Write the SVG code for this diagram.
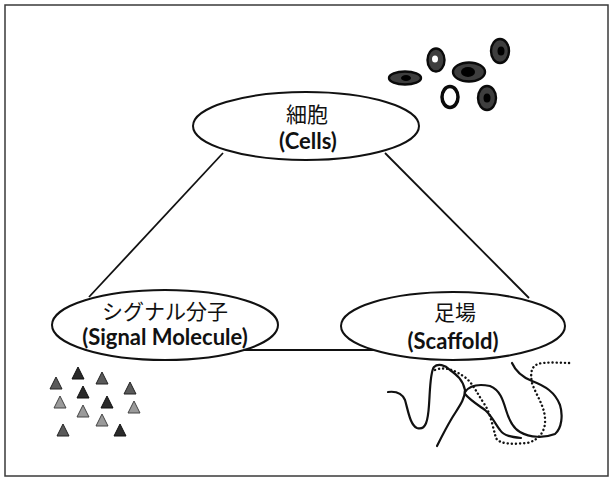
<svg xmlns="http://www.w3.org/2000/svg" width="610" height="478" viewBox="0 0 610 478">
  <style>
    .frame { fill: #ffffff; stroke: #3a3a3a; stroke-width: 1.5; }
    .node ellipse { fill: #ffffff; stroke: #111111; stroke-width: 2; }
    .jp { font-family: "Noto Sans CJK JP", "Noto Sans", sans-serif; font-size: 21px; fill: #111111; text-anchor: middle; }
    .en { font-family: Lato, "Open Sans", "Liberation Sans", sans-serif; font-weight: bold; font-size: 22px; fill: #111111; text-anchor: middle; }
    .edge { stroke: #111111; stroke-width: 1.8; fill: none; }
    .cell { fill: #3e3e3e; stroke: #0a0a0a; stroke-width: 2.4; }
    .nuc { fill: #000000; }
    .tri-d { fill: #2a2a2a; stroke: #111111; stroke-width: 1; }
    .tri-m { fill: #5a5a5a; stroke: #222222; stroke-width: 1; }
    .tri-l { fill: #9a9a9a; stroke: #444444; stroke-width: 1; }
    .fiber { fill: none; stroke: #111111; stroke-width: 2.2; stroke-linecap: round; stroke-linejoin: round; }
    .fiber-dot { fill: none; stroke: #111111; stroke-width: 2.4; stroke-linecap: round; stroke-dasharray: 0.1 4; }
  </style>

  <rect class="frame" x="5" y="5" width="603" height="471"/>

  <!-- connectors between the three nodes -->
  <g id="connectors">
    <line class="edge" x1="223" y1="153" x2="89" y2="297"/>
    <line class="edge" x1="385" y1="153" x2="529" y2="298"/>
    <line class="edge" x1="244" y1="350" x2="375" y2="350"/>
  </g>

  <g id="node-cells" class="node">
    <ellipse cx="306" cy="126" rx="113" ry="34"/>
    <text class="jp" x="307" y="122">細胞</text>
    <text class="en" x="308" y="149">(Cells)</text>
  </g>

  <g id="node-signal" class="node">
    <ellipse cx="165" cy="325" rx="113" ry="35"/>
    <text class="jp" x="165" y="319">シグナル分子</text>
    <text class="en" x="165" y="345">(Signal Molecule)</text>
  </g>

  <g id="node-scaffold" class="node">
    <ellipse cx="453" cy="326" rx="112" ry="34"/>
    <text class="jp" x="455" y="320">足場</text>
    <text class="en" x="453" y="349">(Scaffold)</text>
  </g>

  <!-- cell illustrations -->
  <g id="cells-icon">
    <ellipse class="cell" cx="405" cy="78" rx="16" ry="6.5"/>
    <ellipse class="nuc" cx="406" cy="78" rx="5" ry="3"/>
    <ellipse class="cell" cx="436" cy="60" rx="8.5" ry="11.5"/>
    <ellipse fill="#ffffff" cx="435" cy="59" rx="3" ry="3.5"/>
    <ellipse class="cell" cx="469" cy="72" rx="16" ry="9.5"/>
    <ellipse class="nuc" cx="468" cy="72" rx="7" ry="5"/>
    <ellipse class="cell" cx="500" cy="51" rx="9" ry="12"/>
    <ellipse class="nuc" cx="501" cy="51" rx="3.5" ry="4.5"/>
    <ellipse fill="#ffffff" stroke="#0a0a0a" stroke-width="3.5" cx="450" cy="97" rx="8" ry="10.5"/>
    <ellipse class="cell" cx="487" cy="98" rx="9" ry="12"/>
    <ellipse class="nuc" cx="487" cy="98" rx="3.5" ry="4.5"/>
  </g>

  <!-- signal molecule illustrations -->
  <g id="molecules-icon">
    <path class="tri-d" d="M78 367 L84 379 L72 379 Z"/>
    <path class="tri-m" d="M102 372 L108 384 L96 384 Z"/>
    <path class="tri-m" d="M56 377 L62 389 L50 389 Z"/>
    <path class="tri-m" d="M130 382 L136 394 L124 394 Z"/>
    <path class="tri-d" d="M83 386 L89 398 L77 398 Z"/>
    <path class="tri-l" d="M60 396 L66 408 L54 408 Z"/>
    <path class="tri-d" d="M107 396 L113 408 L101 408 Z"/>
    <path class="tri-l" d="M134 401 L140 413 L128 413 Z"/>
    <path class="tri-l" d="M83 405 L89 417 L77 417 Z"/>
    <path class="tri-l" d="M102 414 L108 426 L96 426 Z"/>
    <path class="tri-m" d="M63 424 L69 436 L57 436 Z"/>
    <path class="tri-d" d="M120 424 L126 436 L114 436 Z"/>
  </g>

  <!-- scaffold fibre illustrations -->
  <g id="scaffold-icon">
    <path class="fiber" d="M388 392 C396 391 402 393 405 400 C408 410 410 425 417 428 C426 431 428 420 429 405 C430 392 430 372 434 367 C438 363 445 365 450 370 C457 375 463 380 465 390 C465 400 458 408 452 418 C446 428 441 438 437 446"/>
    <path class="fiber" d="M465 392 C470 385 480 384 490 386 C500 390 503 400 506 410 C509 420 513 428 520 432 C530 438 545 438 555 434 C562 428 563 415 560 405 C555 392 545 386 532 381 C522 377 516 372 512 363"/>
    <path class="fiber" d="M465 394 C470 400 478 405 485 410 C492 416 496 425 500 430 C504 436 512 437 521 438"/>
    <path class="fiber-dot" d="M435 370 C445 366 455 370 466 378 C474 385 478 395 485 405 C491 415 493 428 496 438 C500 445 515 444 527 443 C540 440 546 430 545 418 C544 405 536 395 532 383 C530 372 531 364 543 363 C552 362 562 363 571 363"/>
  </g>
</svg>
